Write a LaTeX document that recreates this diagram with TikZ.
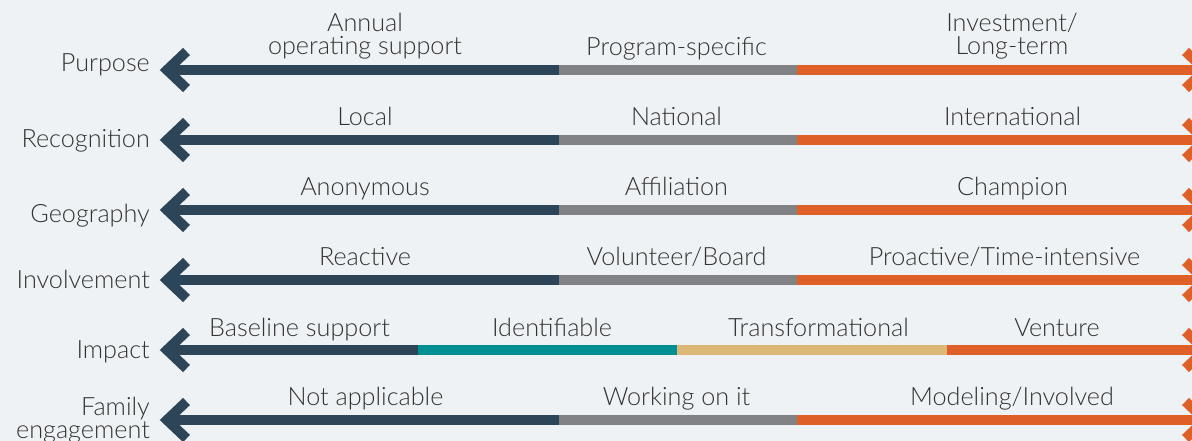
\documentclass[tikz,border=0pt]{standalone}
\usepackage{fontspec}
\setmainfont{Lato}[UprightFont={* Light}]
\definecolor{bg}{HTML}{EEF2F5}
\definecolor{txt}{HTML}{333333}
\definecolor{slate}{HTML}{2D4558}
\definecolor{stone}{HTML}{808285}
\definecolor{rust}{HTML}{DE5F27}
\definecolor{teal}{HTML}{009094}
\definecolor{sand}{HTML}{DCB877}
\begin{document}
\begin{tikzpicture}[x=1pt,y=-1pt,
  lbl/.style={anchor=base, text=txt, inner sep=0pt, align=center,
    font=\fontsize{25.2}{23}\selectfont},
  rowlbl/.style={anchor=base east, text=txt, inner sep=0pt, align=right,
    font=\fontsize{25.2}{23}\selectfont},
  seg/.style={line width=10.5pt, line cap=butt},
  chev/.style={line width=10pt, line cap=butt, line join=miter}]
\fill[bg] (0,0) rectangle (1192,441);
\useasboundingbox (0,0) rectangle (1192,441);
\clip (0,0) rectangle (1192,441);

% scale rows: name / bar height / first and second colour break
\foreach \r/\y/\ba/\bb in {purpose/70/559/797, recog/140/559/797,
    geo/210/559/797, involve/280/559/797, family/420/559/797}{
  \coordinate (\r-l) at (167,\y);
  \coordinate (\r-a) at (\ba,\y);
  \coordinate (\r-b) at (\bb,\y);
  \coordinate (\r-r) at (1205,\y);
  \draw[seg, slate] (\r-l) -- (\r-a);
  \draw[seg, stone] (\r-a) -- (\r-b);
  \draw[seg, rust] (\r-b) -- (\r-r);
  \draw[chev, slate] ([shift={(19.5,-18.5)}]\r-l) -- (\r-l) -- ([shift={(19.5,18.5)}]\r-l);
  \draw[chev, rust] ([shift={(-19.5,-18.5)}]\r-r) -- (\r-r) -- ([shift={(-19.5,18.5)}]\r-r);
}

% impact row with four bands
\coordinate (impact-l) at (167,350);
\coordinate (impact-a) at (418,350);
\coordinate (impact-b) at (677,350);
\coordinate (impact-c) at (947,350);
\coordinate (impact-r) at (1205,350);
\draw[seg, slate] (impact-l) -- (impact-a);
\draw[seg, teal] (impact-a) -- (impact-b);
\draw[seg, sand] (impact-b) -- (impact-c);
\draw[seg, rust] (impact-c) -- (impact-r);
\draw[chev, slate] ([shift={(19.5,-18.5)}]impact-l) -- (impact-l) -- ([shift={(19.5,18.5)}]impact-l);
\draw[chev, rust] ([shift={(-19.5,-18.5)}]impact-r) -- (impact-r) -- ([shift={(-19.5,18.5)}]impact-r);

% row titles (base anchor sits on the last line)
\node[rowlbl] (t-purpose) at (150,72) {Purpose};
\node[rowlbl] (t-recog) at (150,147.3) {Recognition};
\node[rowlbl] (t-geo) at (150,222.7) {Geography};
\node[rowlbl] (t-involve) at (150,288.3) {Involvement};
\node[rowlbl] (t-impact) at (150,358) {Impact};
\node[rowlbl] (t-family) at (150,438) {Family\\engagement};

% band labels
\node[lbl] (p1) at (365,55) {Annual\\operating support};
\node[lbl] (p2) at (676.5,56) {Program-specific};
\node[lbl] (p3) at (1012,55) {Investment/\\Long-term};

\node[lbl] (r1) at (365,125.5) {Local};
\node[lbl] (r2) at (676.5,125.5) {National};
\node[lbl] (r3) at (1012.5,125.5) {International};

\node[lbl] (g1) at (365,195.5) {Anonymous};
\node[lbl] (g2) at (676.5,195.5) {Affiliation};
\node[lbl] (g3) at (1012.5,195.5) {Champion};

\node[lbl] (v1) at (365,265.5) {Reactive};
\node[lbl] (v2) at (676.5,265.5) {Volunteer/Board};
\node[lbl] (v3) at (1004.5,265.5) {Proactive/Time-intensive};

\node[lbl] (i1) at (299.5,336.5) {Baseline support};
\node[lbl] (i2) at (552,336.5) {Identifiable};
\node[lbl] (i3) at (818.5,336.5) {Transformational};
\node[lbl] (i4) at (1057,336.5) {Venture};

\node[lbl] (f1) at (365.5,405.5) {Not applicable};
\node[lbl] (f2) at (676.5,405.5) {Working on it};
\node[lbl] (f3) at (1012,405.5) {Modeling/Involved};
\end{tikzpicture}
\end{document}
